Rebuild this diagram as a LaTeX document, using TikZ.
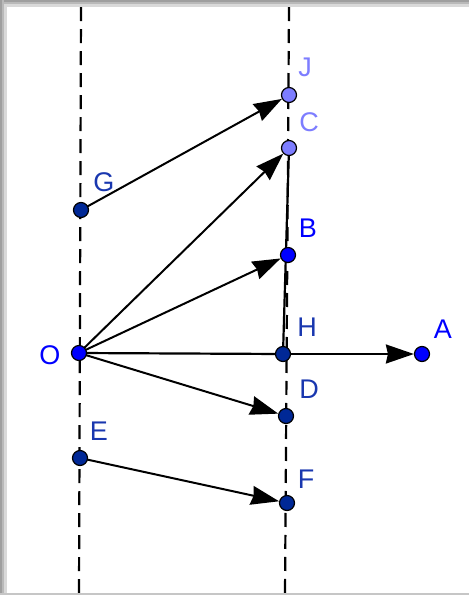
\documentclass[tikz,border=0pt]{standalone}
\usepackage{fontspec}
\setmainfont{Liberation Sans}
\usetikzlibrary{arrows.meta,positioning,calc,backgrounds}
\definecolor{ptlight}{RGB}{125,125,255}
\definecolor{ptblue}{RGB}{0,0,255}
\definecolor{ptdark}{RGB}{0,40,150}
\definecolor{lbldark}{RGB}{25,55,175}

\begin{document}
\begin{tikzpicture}[
  x=1pt, y=-1pt,
  dot/.style={circle, draw=black, line width=1.2pt, inner sep=0pt,
              minimum size=15pt},
  lbl/.style={font=\fontsize{27}{27}\selectfont, inner sep=0pt},
  guide/.style={draw, line width=2.2pt, dash pattern=on 14pt off 8pt},
  arr/.style={draw, line width=2pt,
              -{Stealth[length=28pt, width=19pt, inset=2pt]}},
  seg/.style={draw, line width=2.2pt}
]
\useasboundingbox (0,0) rectangle (469,595);

% frame
\fill[gray!75] (0,0) rectangle (469,2);
\fill[gray!55] (0,2) rectangle (469,4);
\fill[gray!30] (0,4) rectangle (469,7);
\fill[gray!75] (0,0) rectangle (2,595);
\fill[gray!55] (2,0) rectangle (4,595);
\fill[gray!30] (4,4) rectangle (7,595);
\fill[gray!45] (0,593) rectangle (469,595);

% points
\node[dot, fill=ptblue]  (O) at (79,353) {};
\node[dot, fill=ptblue]  (A) at (422,354) {};
\node[dot, fill=ptblue]  (B) at (288,255) {};
\node[dot, fill=ptlight] (C) at (289,148) {};
\node[dot, fill=ptlight] (J) at (289,95) {};
\node[dot, fill=ptdark]  (G) at (81,210) {};
\node[dot, fill=ptdark]  (H) at (283,354) {};
\node[dot, fill=ptdark]  (D) at (286,416) {};
\node[dot, fill=ptdark]  (E) at (80,458) {};
\node[dot, fill=ptdark]  (F) at (287,503) {};

% labels
\node[lbl, text=ptlight] (lJ) at (305,67) {J};
\node[lbl, text=ptlight] (lC) at (309,122) {C};
\node[lbl, text=ptblue]  (lB) at (308,228) {B};
\node[lbl, text=ptblue]  (lO) at (50,355) {O};
\node[lbl, text=ptblue]  (lA) at (443,329) {A};
\node[lbl, text=lbldark] (lG) at (104,182) {G};
\node[lbl, text=lbldark] (lH) at (307,327) {H};
\node[lbl, text=lbldark] (lD) at (309,389) {D};
\node[lbl, text=lbldark] (lE) at (99,431) {E};
\node[lbl, text=lbldark] (lF) at (306,479) {F};

\begin{scope}[on background layer]
\coordinate (t1) at (81,7);
\coordinate (b1) at (79,595);
\coordinate (t2) at (289,7);
\coordinate (b2) at (285,595);
\draw[guide] (t1) -- (b1);
\draw[guide] (t2) -- (b2);

\draw[seg] (C.center) -- (H.center);
\draw[seg] (O.center) -- (H.center);
\draw[arr] (G.center) -- (J);
\draw[arr] (O.center) -- (C);
\draw[arr] (O.center) -- (B);
\draw[arr] (H.center) -- (A);
\draw[arr] (O.center) -- (D);
\draw[arr] (E.center) -- (F);
\end{scope}
\end{tikzpicture}
\end{document}
